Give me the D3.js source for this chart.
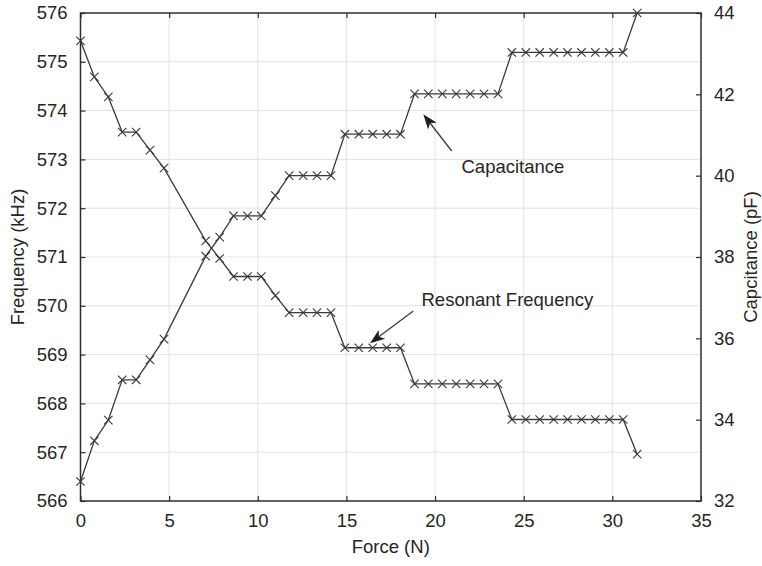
<!DOCTYPE html>
<html>
<head>
<meta charset="utf-8">
<script src="https://cdn.jsdelivr.net/npm/d3@7"></script>
<style>
  html, body { margin: 0; padding: 0; background: #fff; }
  svg { display: block; font-family: "Liberation Sans", Arial, Helvetica, sans-serif; }
</style>
</head>
<body>
<svg id="chart" width="762" height="566"></svg>
<script>
// Applied force (N) at each measurement step
const forceN = [0, 0.78, 1.57, 2.35, 3.14, 3.92, 4.71, 7.06, 7.85, 8.63, 9.42, 10.2,
  10.99, 11.77, 12.56, 13.34, 14.13, 14.91, 15.7, 16.48, 17.27, 18.05, 18.84, 19.62,
  20.41, 21.19, 21.98, 22.76, 23.55, 24.33, 25.12, 25.9, 26.69, 27.47, 28.26, 29.04,
  29.83, 30.61, 31.4];

// Resonant frequency (kHz), left axis
const frequencyKHz = [575.43, 574.69, 574.28, 573.56, 573.56, 573.19, 572.82, 571.33,
  570.97, 570.6, 570.6, 570.6, 570.21, 569.86, 569.86, 569.86, 569.86, 569.14, 569.14,
  569.14, 569.14, 569.14, 568.4, 568.4, 568.4, 568.4, 568.4, 568.4, 568.4, 567.67,
  567.67, 567.67, 567.67, 567.67, 567.67, 567.67, 567.67, 567.67, 566.96];

// Capacitance (pF), right axis
const capacitancePF = [32.48, 33.48, 33.99, 34.98, 34.98, 35.47, 35.98, 38.02, 38.49,
  39.01, 39.01, 39.01, 39.51, 40.0, 40.0, 40.0, 40.0, 41.02, 41.02, 41.02, 41.02, 41.02,
  42.01, 42.01, 42.01, 42.01, 42.01, 42.01, 42.01, 43.03, 43.03, 43.03, 43.03, 43.03,
  43.03, 43.03, 43.03, 43.03, 44.0];

const xTicks = [0, 5, 10, 15, 20, 25, 30, 35];
const freqTicks = [566, 567, 568, 569, 570, 571, 572, 573, 574, 575, 576];
const capTicks = [32, 34, 36, 38, 40, 42, 44];

const svg = d3.select("#chart");
const plotLeft = 80.5, plotRight = 701, plotTop = 13, plotBottom = 501;
const ink = "#3a3a3a", axisInk = "#2e2e2e", gridInk = "#e3e3e3";
const fontSize = "18.5px";

const x = d3.scaleLinear().domain([0, 35]).range([plotLeft, plotRight]);
const yF = d3.scaleLinear().domain([566, 576]).range([plotBottom, plotTop]);
const yC = d3.scaleLinear().domain([32, 44]).range([plotBottom, plotTop]);

// grid
const grid = svg.append("g");
grid.selectAll(".gx").data(xTicks.slice(1, -1)).join("line")
  .attr("x1", d => x(d)).attr("x2", d => x(d))
  .attr("y1", plotTop).attr("y2", plotBottom)
  .attr("stroke", gridInk).attr("stroke-width", 1);
grid.selectAll(".gy").data(freqTicks.slice(1, -1)).join("line")
  .attr("x1", plotLeft).attr("x2", plotRight)
  .attr("y1", d => yF(d)).attr("y2", d => yF(d))
  .attr("stroke", gridInk).attr("stroke-width", 1);

// axes (ticks point inward)
function styleAxis(g) {
  g.select(".domain").remove();
  g.selectAll(".tick line").attr("stroke", axisInk).attr("stroke-width", 1.2);
  g.selectAll(".tick text").attr("fill", "#262626").style("font-size", fontSize)
    .attr("font-family", null);
}
svg.append("g").attr("transform", `translate(0,${plotBottom})`)
  .call(d3.axisBottom(x).tickValues(xTicks).tickSize(-5).tickPadding(13).tickFormat(d3.format("d")))
  .call(styleAxis);
svg.append("g").attr("transform", `translate(0,${plotTop})`)
  .call(d3.axisTop(x).tickValues(xTicks).tickSize(-5).tickFormat(""))
  .call(styleAxis);
svg.append("g").attr("transform", `translate(${plotLeft},0)`)
  .call(d3.axisLeft(yF).tickValues(freqTicks).tickSize(-5).tickPadding(13).tickFormat(d3.format("d")))
  .call(styleAxis);
svg.append("g").attr("transform", `translate(${plotRight},0)`)
  .call(d3.axisRight(yC).tickValues(capTicks).tickSize(-5).tickPadding(13).tickFormat(d3.format("d")))
  .call(styleAxis);

// frame
svg.append("rect").attr("x", plotLeft).attr("y", plotTop)
  .attr("width", plotRight - plotLeft).attr("height", plotBottom - plotTop)
  .attr("fill", "none").attr("stroke", axisInk).attr("stroke-width", 1.5);

// series
function drawSeries(values, yScale) {
  const pts = forceN.map((f, i) => [x(f), yScale(values[i])]);
  svg.append("path").attr("d", d3.line()(pts))
    .attr("fill", "none").attr("stroke", ink).attr("stroke-width", 1.3);
  const r = 4.2;
  const g = svg.append("g").attr("stroke", ink).attr("stroke-width", 1.1);
  g.selectAll("path").data(pts).join("path")
    .attr("d", ([px, py]) => `M${px - r},${py - r}L${px + r},${py + r}M${px - r},${py + r}L${px + r},${py - r}`);
}
drawSeries(frequencyKHz, yF);
drawSeries(capacitancePF, yC);

// annotation arrows
function arrow(x0, y0, x1, y1) {
  const ang = Math.atan2(y1 - y0, x1 - x0);
  const len = 15, half = 5.5, back = 11;
  const ux = Math.cos(ang), uy = Math.sin(ang);
  const bx = x1 - ux * len, by = y1 - uy * len;
  const nx = -uy, ny = ux;
  const notchX = x1 - ux * back, notchY = y1 - uy * back;
  svg.append("line").attr("x1", x0).attr("y1", y0).attr("x2", notchX).attr("y2", notchY)
    .attr("stroke", "#3c3c3c").attr("stroke-width", 1.3);
  svg.append("path")
    .attr("d", `M${x1},${y1}L${bx + nx * half},${by + ny * half}L${notchX},${notchY}L${bx - nx * half},${by - ny * half}Z`)
    .attr("fill", "#1e1e1e");
}
arrow(451.7, 151, 423.3, 114.3);
arrow(413.3, 311, 370, 343.3);

svg.append("text").attr("x", 461.5).attr("y", 172.5)
  .attr("fill", "#262626").style("font-size", fontSize).text("Capacitance");
svg.append("text").attr("x", 421.5).attr("y", 305.8)
  .attr("fill", "#262626").style("font-size", fontSize).text("Resonant Frequency");

// axis titles
svg.append("text").attr("x", (plotLeft + plotRight) / 2).attr("y", 553)
  .attr("text-anchor", "middle").attr("fill", "#262626").style("font-size", fontSize)
  .text("Force (N)");
svg.append("text")
  .attr("transform", `translate(17,${(plotTop + plotBottom) / 2}) rotate(-90)`)
  .attr("text-anchor", "middle").attr("dominant-baseline", "central")
  .attr("fill", "#262626").style("font-size", fontSize)
  .text("Frequency (kHz)");
svg.append("text")
  .attr("transform", `translate(750,${(plotTop + plotBottom) / 2}) rotate(-90)`)
  .attr("text-anchor", "middle").attr("dominant-baseline", "central")
  .attr("fill", "#262626").style("font-size", fontSize)
  .text("Capcitance (pF)");
</script>
</body>
</html>
